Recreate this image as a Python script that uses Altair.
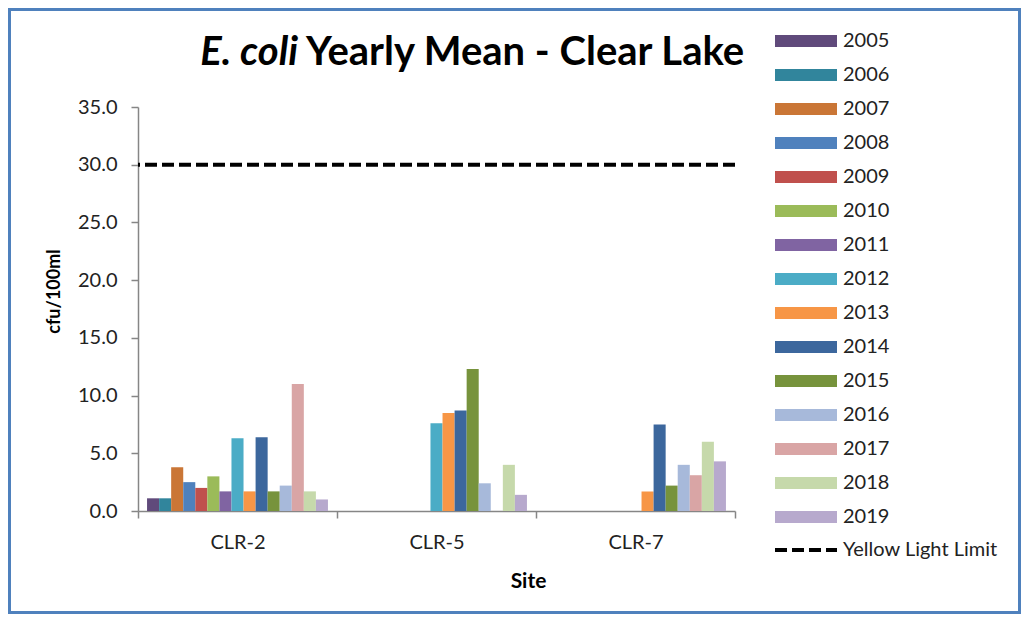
import altair as alt
import pandas as pd

# ---- data ----
sites = ["CLR-2", "CLR-5", "CLR-7"]
years = ["2005", "2006", "2007", "2008", "2009", "2010", "2011", "2012",
         "2013", "2014", "2015", "2016", "2017", "2018", "2019"]
clr2 = [1.1, 1.1, 3.8, 2.5, 2.0, 3.0, 1.7, 6.3, 1.7, 6.4, 1.7, 2.2, 11.0, 1.7, 1.0]
clr5 = [None, None, None, None, None, None, None, 7.6, 8.5, 8.7, 12.3, 2.4, None, 4.0, 1.4]
clr7 = [None, None, None, None, None, None, None, None, 1.7, 7.5, 2.2, 4.0, 3.1, 6.0, 4.3]
year_colors = ["#604A7B", "#31859C", "#CA7636", "#4F81BD", "#C0504D", "#9BBB59",
               "#8064A2", "#4BACC6", "#F79646", "#3C679D", "#77933C", "#A7B9DA",
               "#D9A5A5", "#C6D9AB", "#B7A9CD"]
y_ticks = [0, 5, 10, 15, 20, 25, 30, 35]
limit_value = [30.0]
limit_label = ["Yellow Light Limit"]
title_italic = "E. coli"
title_rest = "Yearly Mean - Clear Lake"

rows = []
for site, vals in zip(sites, [clr2, clr5, clr7]):
    for yr, v in zip(years, vals):
        if v is not None:
            rows.append({"site": site, "year": yr, "value": v})
df = pd.DataFrame(rows)
limit_df = pd.DataFrame({"value": limit_value, "label": limit_label})
one = pd.DataFrame({"k": [0]})

FONT = "Lato"
W, H = 597, 404
PAD = {"left": 130, "top": 99, "right": 286, "bottom": 103}

border = alt.Chart(one).mark_rect(
    fill="white", fillOpacity=0, stroke="#4F81BD", strokeWidth=3
).encode(
    x=alt.value(-PAD["left"] + 1.5), x2=alt.value(W + PAD["right"] - 1.5),
    y=alt.value(-PAD["top"] + 1.5), y2=alt.value(H + PAD["bottom"] - 1.5),
)

bars = alt.Chart(df).mark_bar(strokeWidth=0).encode(
    x=alt.X("site:N", sort=sites,
            scale=alt.Scale(domain=sites, paddingInner=0, paddingOuter=0),
            axis=alt.Axis(title="Site", tickBand="extent", labelAngle=0,
                          labelFont=FONT, labelFontSize=20, labelColor="#222222",
                          labelPadding=14, tickSize=7, tickColor="#868686", tickWidth=1.5,
                          domainColor="#868686", domainWidth=1.5,
                          titleFont=FONT, titleFontSize=21, titleFontWeight="bold",
                          titleColor="black", titleX=390, titleY=70,
                          titleBaseline="middle", titleAlign="center")),
    xOffset=alt.XOffset("year:N",
                        scale=alt.Scale(domain=years, paddingInner=0, paddingOuter=0.75)),
    y=alt.Y("value:Q", scale=alt.Scale(domain=[0, 35], nice=False),
            axis=alt.Axis(title="cfu/100ml", values=y_ticks, format=".1f", grid=False,
                          labelFont=FONT, labelFontSize=20, labelColor="#222222",
                          labelPadding=14, tickSize=7, tickColor="#868686", tickWidth=1.5,
                          domainColor="#868686", domainWidth=1.5,
                          titleFont=FONT, titleFontSize=18, titleFontWeight="bold",
                          titleColor="black", titleX=-84, titleY=184,
                          titleBaseline="middle", titleAlign="center")),
    color=alt.Color("year:N", scale=alt.Scale(domain=years, range=year_colors),
                    legend=alt.Legend(title=None, orient="none", legendX=637, legendY=-76,
                                      symbolType="M-1,-0.194H1V0.194H-1Z", symbolSize=3844,
                                      symbolStrokeWidth=0, symbolOpacity=1,
                                      labelFont=FONT, labelFontSize=20, labelColor="#222222",
                                      labelOffset=6, clipHeight=20, rowPadding=14,
                                      padding=0, direction="vertical")),
)

rule = alt.Chart(limit_df).mark_rule(color="black", strokeWidth=4).encode(
    y="value:Q",
    strokeDash=alt.StrokeDash("label:N",
                              scale=alt.Scale(domain=limit_label, range=[[12, 5]]),
                              legend=alt.Legend(title=None, orient="none", legendX=635, legendY=433,
                                                symbolType="stroke", symbolSize=3844,
                                                symbolStrokeWidth=4, symbolStrokeColor="black",
                                                labelFont=FONT, labelFontSize=20,
                                                labelColor="#222222", labelOffset=4,
                                                clipHeight=20, padding=0)),
)

t1 = alt.Chart(one).mark_text(
    text=title_italic, font=FONT, fontSize=40, fontWeight="bold", fontStyle="italic",
    align="right", baseline="alphabetic", color="black"
).encode(x=alt.value(160), y=alt.value(-42))

t2 = alt.Chart(one).mark_text(
    text=title_rest, font=FONT, fontSize=40, fontWeight="bold",
    align="left", baseline="alphabetic", color="black"
).encode(x=alt.value(168), y=alt.value(-42))

chart = alt.layer(border, bars, rule, t1, t2).properties(
    width=W, height=H,
    autosize=alt.AutoSizeParams(type="none"),
    padding=PAD,
    background="white",
).configure_view(strokeOpacity=0)

chart.save("out.html", embed_options={"renderer": "svg", "actions": False})
